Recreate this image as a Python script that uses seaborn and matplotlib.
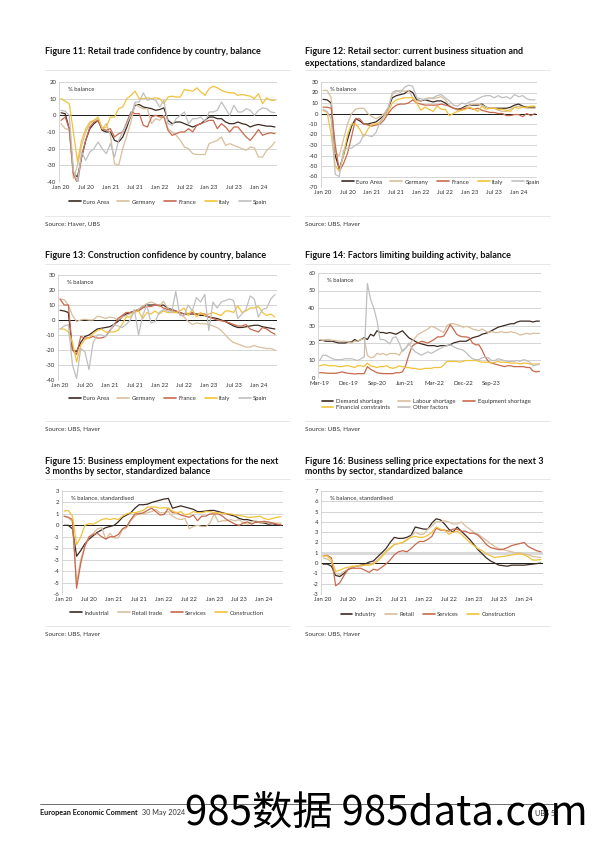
import matplotlib
matplotlib.use('Agg')
import matplotlib.pyplot as plt
from matplotlib.lines import Line2D
import seaborn as sns
import pandas as pd

sns.set_theme(style='white')
plt.rcParams['font.family'] = ['Lato', 'DejaVu Sans']
plt.rcParams['axes.unicode_minus'] = False

W, H = 595, 842

# colours used by the UBS palette
DARK = '#3b2a22'
TAN = '#d8bf9c'
RED = '#c9694d'
YELLOW = '#f2c23a'
GREY = '#bfbfbf'

# monthly axis Jan 20 .. May 24
MONTH_TICKS = [0, 6, 12, 18, 24, 30, 36, 42, 48]
MONTH_LABELS = ['Jan 20', 'Jul 20', 'Jan 21', 'Jul 21', 'Jan 22', 'Jul 22', 'Jan 23', 'Jul 23', 'Jan 24']

COUNTRIES = ['Euro Area', 'Germany', 'France', 'Italy', 'Spain']

# Figure 11: retail trade confidence
ea11 = [1.5, 1, -8, -35, -37, -25, -15, -8, -5, -3, -9, -10,
        -10, -15, -16, -13, -7, 0, 6, 6.5, 5, 4.5, 4, 3,
        3.5, 4.5, -3, -5, -4, -4, -5, -6, -7, -6, -5, -3,
        -1, -1, -2, -2, -4, -5, -5, -4, -5, -5.5, -7, -6,
        -5.5, -6, -6.5, -6.5, -7]
de11 = [-5, -8, -8.5, -38, -30, -18, -10, -5, -3, -2, -8, -5,
        -12, -29, -30, -20, -12, -4, 7, 5, 4, 4, -5, -2,
        -3, 0, -8, -10, -12, -15, -19, -20, -23, -23.5, -23.5, -23.5,
        -17, -16, -15, -13, -18, -17, -18, -19, -20, -21, -19, -19.5,
        -25, -25, -21, -19, -16]
fr11 = [-3, -1, -8, -35, -41, -25, -15, -7, -4, -3, -8, -9,
        -8, -13, -11, -10, -4, 2, 1, 1, -6, -7, -1, 0,
        -1, -1, -9, -12, -11, -10, -10, -8, -10, -6, -5, -4,
        -3, -3, -8, -5, -7, -10, -7, -7, -10, -13, -15, -12,
        -8.5, -12, -11, -10.5, -11]
it11 = [10, 8.5, 7, -10, -28, -15, -8, -4, -3, -1, -8, -7,
        -1, -1, 4, 5, 10, 12, 14.5, 10, 10, 10.5, 10, 10.5,
        10, 7, 11, 11.5, 11, 11, 15.5, 15, 14.5, 16.5, 14, 12,
        16, 17.5, 16.5, 15, 14, 13.5, 13.5, 12, 12.5, 12, 11.5, 10,
        13, 7, 10.5, 9, 9]
es11 = [3, 2.5, 0, -33, -40, -22, -27, -22, -20, -16, -20, -23,
        -17, -25, -15, -10, -5, 0, 8, 8, 13.5, 9, 10, 9,
        5, 9, -5, -6, -2, 0, 2, -5, -2, -2, -1, -4,
        2, 2, 3, 8, 4, 0, 6, 2, 2, 4, 3, 0,
        3, 4.5, 4, 2, 1.5]

# Figure 12: retail sector business situation and expectations
ea12 = [13.5, 13, 10, -40, -53, -40, -25, -12, -5, -7, -10, -10,
        -9, -8, -5, -2, 5, 15, 17, 18, 19, 22, 20, 13,
        12, 13, 12, 11, 12, 12, 10, 7, 5, 4, 5, 7,
        8, 8, 8, 9, 6, 5, 5, 5, 5, 5, 6, 8,
        9, 7, 6, 6, 6]
de12 = [22, 22, 15, -38, -40, -25, -10, 0, 4, 5, 5, 0,
        -3, -5, -3, 0, 6, 18, 21, 22, 21, 22, 15, 12,
        12, 14, 15, 14, 15, 16, 13, 8, 5, 3, 4, 6,
        8, 9, 9, 8, 6, 5, 5, 3, 2, 2, 4, 6,
        7, 6, 5, 5, 5]
fr12 = [6, 6, 5, -30, -55, -48, -38, -22, -5, -5, -10, -11,
        -12, -11, -10, -6, 0, 5, 8, 9, 9, 10, 13, 10,
        9, 8, 8, 8, 8, 9, 8, 7, 5, 4, 4, 5,
        5, 4, 5, 3, 2, 1, 1, 0, 0, -2, -2, -1,
        -1, -3, 0, -2, 0]
it12 = [3, 1, -20, -50, -55, -40, -20, -10, -10, -15, -22, -15,
        -10, -10, -8, -3, 2, 10, 13, 14, 15, 15, 15, 10,
        3, 6, 4, 2, 7, 4, 4, -2, 0, 2, 3, 4,
        6, 4, 2, 7, 4, 5, 5, 4, 4, 3, 2, 6,
        5, 6, 6, 7, 7]
es12 = [4, 2, -5, -58, -60, -35, -33, -33, -30, -28, -20, -21,
        -22, -18, -8, -2, 5, 20, 22, 20, 25, 27, 26, 15,
        14, 13, 14, 15, 17, 18, 15, 12, 8, 7, 10, 9,
        11, 12, 14, 16, 17, 17, 15, 17, 15, 16, 14, 18,
        16, 17, 14, 13, 13]

# Figure 13: construction confidence
ea13 = [6.5, 6, 5, -20, -21, -15, -11, -10, -8, -6, -5.5, -5,
        -4.5, -3, -1, 2, 4, 5, 6, 7, 9, 10, 10, 10,
        9.5, 10, 8, 7, 6, 5, 4, 4, 4, 4, 3, 3,
        2, 1.5, 1, 0, -1, -2.5, -4, -5, -5, -4.5, -4, -3.5,
        -3.5, -4.5, -5, -5.5, -6]
de13 = [14, 13.5, 10, 3, -1, 0, 0.5, 0, 0, 2.5, 2, 1,
        2, 1.5, 0, 2, 3, 4, 6, 7, 9, 11, 12, 11,
        9, 12.5, 8, 6, 5, 4, 2, -1, -3, -2, -2.5, -2.5,
        -3, -4, -5, -7, -10, -13, -15, -16, -17, -18, -18, -17,
        -18, -18.5, -19, -19, -20]
fr13 = [14, 10, 10, -20, -23, -11, -12, -12, -11, -12, -12, -11,
        -7, -4, 1, 3, 5, 5, 6, 6, 8, 9, 9, 10,
        10, 8, 7, 6.5, 6, 5, 4, 4, 5, 4, 4, 4,
        2, 1, 0, -0.5, -1, -2, -3, -4, -4, -3, -6, -7,
        -8, -5, -6, -8, -9.5]
it13 = [-6, -6, -8, -15, -28, -17, -13, -12, -9, -7, -6, -8,
        -8, -8, -7, -3, 2, 2, 5, 6, 1, 5, 4, 6,
        4, 6, 5, 5, 5, 6, 8, 3, 7, 2, 5, 3,
        4, 5, 4, 3, 6, 6, 5, 9.5, 5, 6, 8, 8,
        9, 5, 3, 4, 2]
es13 = [-6, -4, -3, -30, -39, -19, -21, -33, -15, -10, -10, -11,
        -8, -3, -4, -5, -3, 0, 7, -10, 3, 10, -2, -1,
        5, 7, 6, 5, 19, 3, 3, 10, 6, 15, 12, 17,
        -7, 12, 8, 12, 13, 14, 13, 1, 4, 7, 16, 14,
        2, 7, 8, 14, 17]

# Figure 14: factors limiting building activity
FACTOR_TICKS = [0, 9, 18, 27, 36, 45, 54]
FACTOR_LABELS = ['Mar-19', 'Dec-19', 'Sep-20', 'Jun-21', 'Mar-22', 'Dec-22', 'Sep-23']
demand = [21.5, 21.5, 21, 21, 21, 20.5, 20, 20, 20, 20.5,
          20.5, 22, 21, 22, 23, 22, 25, 24, 27, 26,
          26, 25.5, 26, 25.5, 25, 26, 27, 25, 23, 22,
          21, 20, 19.5, 19, 18.5, 18.5, 18.5, 18, 18.5, 18.5,
          18.5, 19, 20, 20.5, 21, 21, 21, 22, 23, 23.5,
          24, 25, 25.5, 26, 27, 28, 29, 29.5, 30, 30.5,
          31, 31, 32, 32.5, 32.5, 32.5, 32.5, 32, 32.5, 32.5]
labour = [22, 21.5, 22, 22, 21.5, 21.5, 21, 21, 21, 20.5,
          20, 21, 21, 22, 22.5, 13, 11.5, 12, 14, 13.5,
          14, 13, 14, 14, 14, 13, 16, 17, 19, 21,
          23, 25, 26, 27, 28, 29.5, 29, 28, 27, 26,
          30, 31, 31, 30.5, 30, 29, 29.5, 29, 28, 27.5,
          27, 28, 27, 26, 26.5, 26, 26, 26.5, 26, 26,
          26.5, 26, 25.5, 24.5, 25, 25.5, 25, 25.5, 25.5, 25.5]
equipment = [3, 3, 2.8, 2.7, 2.7, 2.7, 3, 3.5, 3, 2.7,
             2.5, 2.3, 2.5, 2.5, 2.5, 6.5, 5, 4, 3, 2.7,
             2.5, 2.5, 2.5, 2.5, 3, 3, 3.5, 7, 13, 18,
             19.5, 20, 21, 20.5, 20, 21, 22, 23.5, 23.5, 24,
             27, 30.5, 28, 25, 24, 23.5, 23.5, 23, 20, 19,
             19, 16, 12, 9.5, 8.5, 8, 7.5, 7, 6.5, 7,
             7, 6.5, 6.5, 6.5, 6.5, 6, 6, 4, 3.5, 3.8]
financial = [7, 7.5, 7.5, 7, 7, 7, 6.5, 6.5, 7, 7,
             6.5, 6, 7, 7, 6.5, 8.5, 7, 6.5, 6, 6.5,
             6.5, 7, 6, 5.5, 6, 7, 6.5, 6, 6, 5.5,
             5.5, 5, 5, 5.5, 5.5, 5.5, 6, 6, 6, 7.5,
             9.5, 9.5, 9.5, 9.5, 9, 9.5, 10, 10, 10, 10,
             9.5, 9, 9, 9, 8.5, 9, 9.5, 9, 9, 9,
             8.5, 8.5, 8.5, 8, 8.5, 8.5, 8, 8, 8, 8]
other = [10, 13, 13, 12, 11, 10.5, 10.5, 10.5, 11, 11,
         11, 10.5, 10, 11, 12, 54, 45, 40, 33, 22,
         22, 21, 19.5, 23, 23.5, 20, 15, 17, 20, 17,
         15, 14, 13, 14, 15, 14, 15, 16, 17, 18,
         18.5, 19, 18, 17, 16.5, 16, 14.5, 12.5, 11, 10.5,
         10.5, 11.5, 12, 11.5, 10, 10, 11, 10.5, 10, 9.5,
         9.5, 9.5, 10, 9.5, 10.5, 10, 9, 7, 7.5, 8]

# Figure 15: employment expectations by sector
ind15 = [0, 0, -0.3, -2.7, -2.2, -1.6, -1.2, -0.9, -0.6, -0.4, -0.2, -0.1,
         0, 0.3, 0.7, 0.9, 1.1, 1.5, 1.8, 1.8, 1.85, 2.0, 2.1, 2.2,
         2.3, 2.35, 1.5, 1.6, 1.7, 1.6, 1.5, 1.4, 1.2, 1.2, 1.25, 1.3,
         1.3, 1.2, 1.1, 1.0, 0.9, 0.8, 0.6, 0.5, 0.5, 0.4, 0.3, 0.25,
         0.2, 0.1, 0.15, 0.05, 0]
ret15 = [0.8, 0.7, 0.3, -5.0, -3.0, -1.8, -1.0, -0.7, -0.3, -0.2, -1.2, -0.7,
         -1.1, -1.1, -0.4, -0.2, 0.4, 0.8, 1.1, 1.0, 1.1, 1.2, 1.4, 1.1,
         1.1, 1.2, 0.8, 0.6, 0.5, 0.6, -0.3, -0.1, 0, -0.1, -0.1, 0.2,
         1.0, 0.3, 0.4, 0.4, 0.5, 0.4, 0.5, 0.2, 0.1, 0.3, 0.4, 0.2,
         0.3, 0.2, 0.2, 0.2, 0.2]
ser15 = [0.8, 0.7, 0.5, -5.5, -3.3, -1.8, -1.0, -0.8, -0.7, -1.0, -1.2, -1.0,
         -1.0, -0.8, -0.3, -0.1, 0.5, 1.0, 1.0, 1.1, 1.3, 1.5, 1.2, 0.9,
         0.95, 1.5, 1.1, 1.1, 0.9, 0.8, 0.7, 0.9, 0.4, 0.8, 0.8, 1.0,
         1.0, 1.0, 0.8, 0.5, 0.3, 0.1, 0.0, 0.2, 0.3, 0.1, 0.3, 0.3,
         0.35, 0.3, 0.2, 0.1, 0.05]
con15 = [1.25, 1.3, 0.8, -1.7, -1.0, 0.0, 0.15, 0.1, 0.3, 0.5, 0.6, 0.5,
         0.6, 0.5, 0.8, 1.0, 1.1, 1.1, 1.2, 1.3, 1.6, 1.6, 1.6, 1.5,
         1.55, 1.5, 1.25, 1.1, 1.2, 0.9, 1.0, 1.2, 1.1, 1.1, 1.2, 1.2,
         1.1, 1.1, 1.05, 1.0, 1.0, 0.9, 0.85, 0.8, 0.7, 0.7, 0.75, 0.8,
         0.6, 0.5, 0.6, 0.7, 0.75]

# Figure 16: selling price expectations by sector
ind16 = [-0.1, -0.1, -0.3, -1.2, -1.3, -1.0, -0.6, -0.4, -0.3, -0.2, -0.1, 0.1,
         0.2, 0.6, 1.0, 1.4, 2.0, 2.5, 2.4, 2.4, 2.5, 2.7, 3.5, 3.4,
         3.3, 3.3, 3.9, 4.3, 4.2, 3.8, 3.3, 3.0, 3.5, 3.1, 2.7, 2.3,
         1.8, 1.3, 0.9, 0.5, 0.2, 0.0, -0.2, -0.25, -0.3, -0.2, -0.2, -0.2,
         -0.2, -0.15, -0.1, -0.05, 0.0]
ret16 = [0.5, 0.4, 0.1, -1.0, -1.1, -0.8, -0.6, -0.4, -0.3, -0.3, -0.2, -0.1,
         0.0, 0.3, 0.7, 1.1, 1.4, 1.8, 1.9, 2.0, 2.2, 2.6, 3.0, 2.8,
         2.8, 3.3, 3.6, 4.0, 4.0, 4.1, 4.0, 3.8, 3.8, 4.0, 3.6, 3.3,
         3.0, 2.8, 2.5, 2.2, 1.9, 1.6, 1.4, 1.3, 1.2, 1.1, 1.0, 1.0,
         0.9, 0.8, 0.65, 0.6, 0.55]
ser16 = [0.7, 0.75, 0.5, -2.2, -1.9, -1.2, -0.6, -0.5, -0.5, -0.5, -0.7, -0.9,
         -0.6, -0.7, -0.4, -0.1, 0.3, 0.8, 1.1, 1.2, 1.1, 1.4, 1.8, 2.1,
         2.1, 2.3, 2.6, 3.4, 3.2, 3.2, 3.1, 3.3, 3.3, 3.1, 3.1, 2.9,
         2.9, 2.7, 2.3, 1.8, 1.5, 1.4, 1.3, 1.35, 1.5, 1.7, 1.8, 1.9,
         2.0, 1.6, 1.4, 1.2, 1.1]
con16 = [0.7, 0.7, 0.3, -0.8, -0.7, -0.5, -0.4, -0.3, -0.3, -0.2, -0.2, -0.2,
         -0.1, 0.2, 0.6, 1.1, 1.5, 1.8, 1.9, 2.0, 2.3, 2.5, 2.6, 2.5,
         2.5, 2.7, 3.0, 3.5, 3.3, 3.2, 2.8, 3.0, 3.1, 2.8, 2.4, 2.0,
         1.7, 1.4, 1.2, 0.9, 0.7, 0.55, 0.6, 0.65, 0.7, 0.8, 0.85, 0.9,
         0.8, 0.6, 0.3, 0.3, 0.35]


def px_axes(fig, left, top, right, bottom):
    return fig.add_axes([left / W, 1 - bottom / H, (right - left) / W, (bottom - top) / H])


def long_frame(names, values):
    frames = [pd.DataFrame({'t': range(len(v)), 'v': v, 'series': n}) for n, v in zip(names, values)]
    return pd.concat(frames, ignore_index=True)


def draw_panel(ax, names, values, colors, ylim, ystep, xticks, xlabels, note, zero=True):
    df = long_frame(names, values)
    n = len(values[0])
    sns.lineplot(data=df, x='t', y='v', hue='series', palette=dict(zip(names, colors)),
                 hue_order=names, linewidth=0.9, ax=ax, legend=False, zorder=3)
    ax.set_xlim(-0.5, n - 0.5)
    ax.set_ylim(*ylim)
    ax.set_yticks(list(range(ylim[0], ylim[1] + 1, ystep)))
    ax.set_xticks(xticks)
    ax.set_xticklabels(xlabels)
    ax.set_xlabel('')
    ax.set_ylabel('')
    ax.yaxis.grid(True, color='#cfcfcf', linewidth=0.6)
    ax.xaxis.grid(False)
    ax.set_axisbelow(True)
    for s in ['top', 'right', 'bottom']:
        ax.spines[s].set_visible(False)
    ax.spines['left'].set_color('#cfcfcf')
    ax.spines['left'].set_linewidth(0.6)
    ax.tick_params(axis='both', length=0, labelsize=4.3, labelcolor='#333333', pad=2)
    if zero:
        ax.axhline(0, color='#1a1a1a', linewidth=0.7, zorder=2)
    ax.text(0.04, 0.93, note, transform=ax.transAxes, fontsize=4.3, color='#333333',
            va='center', ha='left')


def add_legend(fig, names, colors, x, y, ncol, order=None, ax=None, box=False):
    handles = [Line2D([], [], color=c, linewidth=1.2) for c in colors]
    labels = list(names)
    if order is not None:
        handles = [handles[i] for i in order]
        labels = [labels[i] for i in order]
    target = fig if ax is None else ax
    leg = target.legend(handles, labels, loc='center', bbox_to_anchor=(x / W, 1 - y / H),
                        bbox_transform=fig.transFigure, ncol=ncol, frameon=box,
                        fontsize=4.3, handlelength=2.0, handletextpad=0.4,
                        columnspacing=1.4, borderpad=0.2, labelspacing=0.2)
    if box:
        leg.get_frame().set_facecolor('white')
        leg.get_frame().set_edgecolor('none')
        leg.get_frame().set_alpha(1)
        leg.set_zorder(5)
    for t in leg.get_texts():
        t.set_color('#333333')
    return leg


fig = plt.figure(figsize=(W / 100, H / 100), dpi=100)
fig.patch.set_facecolor('white')


def ftext(x, y, s, **kw):
    fig.text(x / W, 1 - y / H, s, va='center', **kw)


def hline(x0, x1, y, color='#e3e3e3', lw=0.6):
    fig.add_artist(Line2D([x0 / W, x1 / W], [1 - y / H, 1 - y / H], color=color, linewidth=lw))


TITLE = dict(fontsize=6.5, fontweight='bold', color='#111111')
SRC = dict(fontsize=4.6, color='#333333')
C5 = [DARK, TAN, RED, YELLOW, GREY]
C4 = [DARK, TAN, RED, YELLOW]

# ---- row 1 ----
ftext(45, 51, 'Figure 11: Retail trade confidence by country, balance', **TITLE)
ftext(305, 51, 'Figure 12: Retail sector: current business situation and', **TITLE)
ftext(305, 63, 'expectations, standardized balance', **TITLE)
for x0, x1 in [(45, 290), (305, 550)]:
    hline(x0, x1, 70)
    hline(x0, x1, 216)

ax11 = px_axes(fig, 59, 82, 277, 182)
draw_panel(ax11, COUNTRIES, [ea11, de11, fr11, it11, es11], C5, (-40, 20), 10,
           MONTH_TICKS, MONTH_LABELS, '% balance')
add_legend(fig, COUNTRIES, C5, 168, 202, 5)
ftext(45, 224, 'Source: Haver, UBS', **SRC)

ax12 = px_axes(fig, 321, 82, 537, 187)
draw_panel(ax12, COUNTRIES, [ea12, de12, fr12, it12, es12], C5, (-70, 30), 10,
           MONTH_TICKS, MONTH_LABELS, '% balance')
add_legend(fig, COUNTRIES, C5, 441, 182, 5, ax=ax12, box=True)
ftext(305, 224, 'Source: UBS, Haver', **SRC)

# ---- row 2 ----
ftext(45, 256, 'Figure 13: Construction confidence by country, balance', **TITLE)
ftext(305, 256, 'Figure 14: Factors limiting building activity, balance', **TITLE)
for x0, x1 in [(45, 290), (305, 550)]:
    hline(x0, x1, 264)
    hline(x0, x1, 421)

ax13 = px_axes(fig, 58, 275, 277, 380)
draw_panel(ax13, COUNTRIES, [ea13, de13, fr13, it13, es13], C5, (-40, 30), 10,
           MONTH_TICKS, MONTH_LABELS, '% balance')
add_legend(fig, COUNTRIES, C5, 168, 398, 5)
ftext(45, 429, 'Source: UBS, Haver', **SRC)

FACTORS = ['Demand shortage', 'Labour shortage', 'Equipment shortage', 'Financial constraints', 'Other factors']
ax14 = px_axes(fig, 318, 273, 541, 378)
draw_panel(ax14, FACTORS, [demand, labour, equipment, financial, other], C5, (0, 60), 10,
           FACTOR_TICKS, FACTOR_LABELS, '% balance', zero=False)
ax14.axhline(0, color='#8c8c8c', linewidth=0.7, zorder=2)
add_legend(fig, FACTORS, C5, 426, 404.5, 3, order=[0, 3, 1, 4, 2])
ftext(305, 429, 'Source: UBS, Haver', **SRC)

# ---- row 3 ----
ftext(45, 461, 'Figure 15: Business employment expectations for the next', **TITLE)
ftext(45, 472, '3 months by sector, standardized balance', **TITLE)
ftext(305, 461, 'Figure 16: Business selling price expectations for the next 3', **TITLE)
ftext(305, 472, 'months by sector, standardized balance', **TITLE)
for x0, x1 in [(45, 290), (305, 550)]:
    hline(x0, x1, 479)
    hline(x0, x1, 626)

SECT15 = ['Industrial', 'Retail trade', 'Services', 'Construction']
ax15 = px_axes(fig, 62, 491, 283, 594)
draw_panel(ax15, SECT15, [ind15, ret15, ser15, con15], C4, (-6, 3), 1,
           MONTH_TICKS, MONTH_LABELS, '% balance, standardised')
add_legend(fig, SECT15, C4, 167, 613, 4)
ftext(45, 634, 'Source: UBS, Haver', **SRC)

SECT16 = ['Industry', 'Retail', 'Services', 'Construction']
ax16 = px_axes(fig, 321, 491, 543, 594)
draw_panel(ax16, SECT16, [ind16, ret16, ser16, con16], C4, (-3, 7), 1,
           MONTH_TICKS, MONTH_LABELS, '% balance, standardised')
ax16.axhline(1, color='#d9d9d9', linewidth=2.2, zorder=1)
add_legend(fig, SECT16, C4, 428, 614, 4)
ftext(305, 634, 'Source: UBS, Haver', **SRC)

# ---- footer ----
hline(40, 555, 804, color='#555555', lw=0.6)
ftext(40, 813, 'European Economic Comment', fontsize=5.2, fontweight='bold', color='#111111')
ftext(142, 813, '30 May 2024', fontsize=5.2, color='#333333')
ftext(555, 813, 'UBS 5', fontsize=5.2, color='#333333', ha='right')
fig.text(185 / W, 1 - 813 / H, '985数据 985data.com', fontsize=29, color='black',
         va='center', ha='left', family=['Noto Sans CJK SC', 'DejaVu Sans'])

fig.savefig('out.png', dpi=100, facecolor='white')
